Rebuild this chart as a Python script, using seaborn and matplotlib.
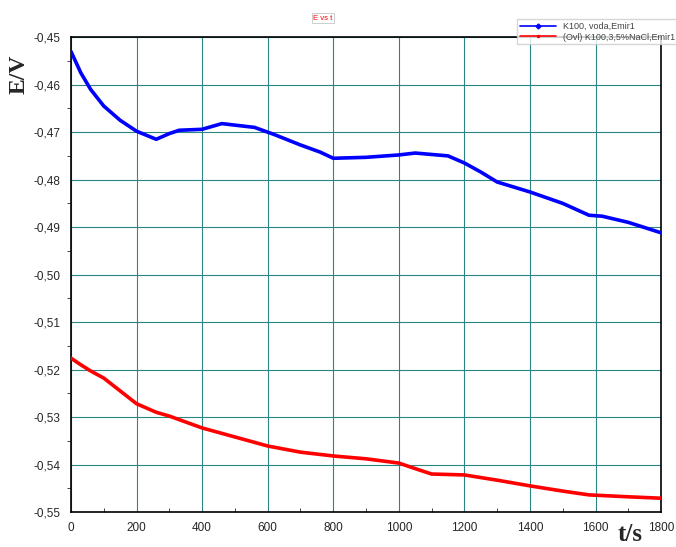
import pandas as pd
import seaborn as sns
import matplotlib.pyplot as plt
from matplotlib.ticker import MultipleLocator, FuncFormatter

# values
t_blue = [0, 30, 60, 100, 150, 200, 260, 300, 330, 400, 460, 560, 620, 700, 760,
          800, 900, 1000, 1050, 1150, 1200, 1250, 1300, 1400, 1500, 1580, 1620, 1700, 1800]
e_blue = [-0.453, -0.4575, -0.461, -0.4645, -0.4675, -0.4698, -0.4715, -0.4703, -0.4696,
          -0.4694, -0.4682, -0.469, -0.4705, -0.4727, -0.4742, -0.4755, -0.4753, -0.4748,
          -0.4744, -0.475, -0.4765, -0.4784, -0.4805, -0.4826, -0.485, -0.4875, -0.4877,
          -0.489, -0.4912]

t_red = [0, 30, 60, 100, 150, 200, 260, 300, 400, 500, 600, 700, 800, 900, 1000,
         1060, 1100, 1200, 1300, 1400, 1500, 1580, 1700, 1800]
e_red = [-0.5176, -0.519, -0.5203, -0.5218, -0.5245, -0.5272, -0.529, -0.5298, -0.5323,
         -0.5342, -0.5361, -0.5374, -0.5382, -0.5388, -0.5397, -0.5411, -0.542, -0.5422,
         -0.5433, -0.5445, -0.5456, -0.5464, -0.5468, -0.5471]

names = ['K100, voda,Emir1', '(Ovl) K100,3,5%NaCl,Emir1']

df = pd.concat([
    pd.DataFrame({'t': t_blue, 'E': e_blue, 'serie': names[0]}),
    pd.DataFrame({'t': t_red, 'E': e_red, 'serie': names[1]}),
])

sns.set_style('white')
plt.rcParams['font.family'] = ['Liberation Sans', 'DejaVu Sans']

fig = plt.figure(figsize=(6.76, 5.47), dpi=100)
ax = fig.add_axes([0.105, 0.064, 0.873, 0.868])

sns.lineplot(data=df, x='t', y='E', hue='serie', palette=['#0000ff', '#ff0000'],
             linewidth=2.6, ax=ax, legend=False, zorder=3)

ax.set_xlim(0, 1800)
ax.set_ylim(-0.55, -0.45)
ax.xaxis.set_major_locator(MultipleLocator(200))
ax.xaxis.set_minor_locator(MultipleLocator(100))
ax.yaxis.set_major_locator(MultipleLocator(0.01))
ax.yaxis.set_minor_locator(MultipleLocator(0.005))
ax.yaxis.set_major_formatter(FuncFormatter(lambda v, p: f'{v:.2f}'.replace('.', ',')))
ax.grid(True, which='major', color='#2a8585', linewidth=0.8)
ax.tick_params(axis='both', which='major', labelsize=8.5, length=4, color='black',
               direction='out')
ax.tick_params(axis='x', which='minor', length=3, direction='in', bottom=True)
ax.tick_params(axis='y', which='minor', length=3, direction='out', left=True)
for s in ax.spines.values():
    s.set_color('black')
    s.set_linewidth(1.2)
ax.set_xlabel('')
ax.set_ylabel('')

fig.text(0.028, 0.865, 'E/V', rotation=90, fontsize=17, fontweight='bold',
         family='Liberation Serif', ha='center', va='center')
fig.text(0.932, 0.022, 't/s', fontsize=18, fontweight='bold',
         family='Liberation Serif', ha='center', va='center')
fig.text(0.478, 0.967, 'E vs t', fontsize=5.5, color='red', ha='center', va='center',
         bbox=dict(facecolor='white', edgecolor='#bbbbbb', linewidth=0.5, pad=1))

h1, = ax.plot([], [], color='#0000ff', marker='D', markersize=2.5, linewidth=1.2)
h2, = ax.plot([], [], color='#ff0000', marker='o', markersize=1.5, linewidth=1.2)
fig.legend([h1, h2], names, loc='upper left', bbox_to_anchor=(0.765, 0.965),
           fontsize=6.5, frameon=True, fancybox=False, edgecolor='#cccccc',
           borderpad=0.3, labelspacing=0.2, handlelength=4, labelcolor='#444444',
           borderaxespad=0)

fig.savefig('out.png', dpi=100)
